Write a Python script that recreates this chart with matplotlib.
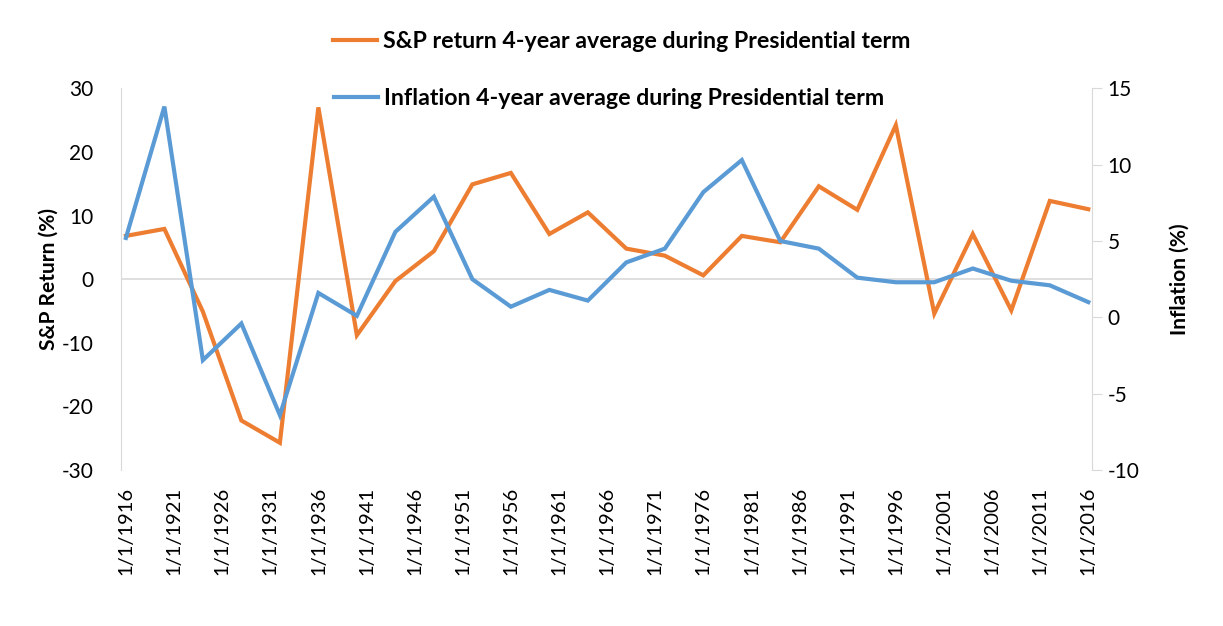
import matplotlib.pyplot as plt

plt.rcParams['font.family'] = ['Lato', 'DejaVu Sans']
plt.rcParams['axes.unicode_minus'] = False

years = [1916, 1920, 1924, 1928, 1932, 1936, 1940, 1944, 1948, 1952, 1956, 1960, 1964,
         1968, 1972, 1976, 1980, 1984, 1988, 1992, 1996, 2000, 2004, 2008, 2012, 2016]
sp_return = [6.8, 7.9, -5.1, -22.2, -25.7, 27.0, -8.8, -0.3, 4.4, 14.9, 16.7, 7.1, 10.5,
             4.8, 3.7, 0.6, 6.8, 5.8, 14.6, 10.9, 24.2, -5.4, 7.1, -4.9, 12.3, 11.0]
inflation = [5.2, 13.8, -2.8, -0.4, -6.4, 1.6, 0.1, 5.6, 7.9, 2.5, 0.7, 1.8, 1.1,
             3.6, 4.5, 8.2, 10.3, 5.0, 4.5, 2.6, 2.3, 2.3, 3.2, 2.4, 2.1, 1.0]
tick_years = [1916, 1921, 1926, 1931, 1936, 1941, 1946, 1951, 1956, 1961, 1966,
              1971, 1976, 1981, 1986, 1991, 1996, 2001, 2006, 2011, 2016]

orange = '#ED7D31'
blue = '#5B9BD5'
gray = '#D9D9D9'

fig = plt.figure(figsize=(12.23, 6.26), dpi=100)
ax = fig.add_axes([0.099, 0.249, 0.794, 0.61])
ax2 = ax.twinx()

l1, = ax.plot(years, sp_return, color=orange, lw=3, solid_joinstyle='miter',
              label='S&P return 4-year average during Presidential term')
l2, = ax2.plot(years, inflation, color=blue, lw=3, solid_joinstyle='miter',
               label='Inflation 4-year average during Presidential term')

ax.set_xlim(1915.5, 2016.4)
ax.set_ylim(-30, 30)
ax.set_yticks([-30, -20, -10, 0, 10, 20, 30])
ax2.set_ylim(-10, 15)
ax2.set_yticks([-10, -5, 0, 5, 10, 15])

ax.axhline(0, color=gray, lw=1.2, zorder=0)
ax.set_xticks(tick_years)
ax.set_xticklabels(['1/1/%d' % y for y in tick_years], rotation=90, fontsize=14.5)

for a in (ax, ax2):
    for s in ('top', 'bottom'):
        a.spines[s].set_visible(False)
    a.spines['left'].set_color(gray)
    a.spines['right'].set_color(gray)
    a.tick_params(axis='y', labelsize=15, colors='black')
ax.spines['right'].set_visible(False)
ax2.spines['left'].set_visible(False)
ax.tick_params(axis='y', length=0, pad=20)
ax.tick_params(axis='x', length=0, pad=12)
ax2.tick_params(axis='y', length=7, color=gray, pad=4)

ax.set_ylabel('S&P Return (%)', fontsize=15, fontweight='bold', labelpad=2)
ax2.set_ylabel('Inflation (%)', fontsize=15, fontweight='bold', labelpad=22)

fig.legend(handles=[l1], loc='center', bbox_to_anchor=(0.508, 0.933), frameon=False,
           prop={'size': 16.7, 'weight': 'bold'}, handlelength=1.9, handletextpad=0.25)
fig.legend(handles=[l2], loc='center', bbox_to_anchor=(0.498, 0.843), frameon=False,
           prop={'size': 16.7, 'weight': 'bold'}, handlelength=1.9, handletextpad=0.25)

plt.savefig('out.png', dpi=100)
